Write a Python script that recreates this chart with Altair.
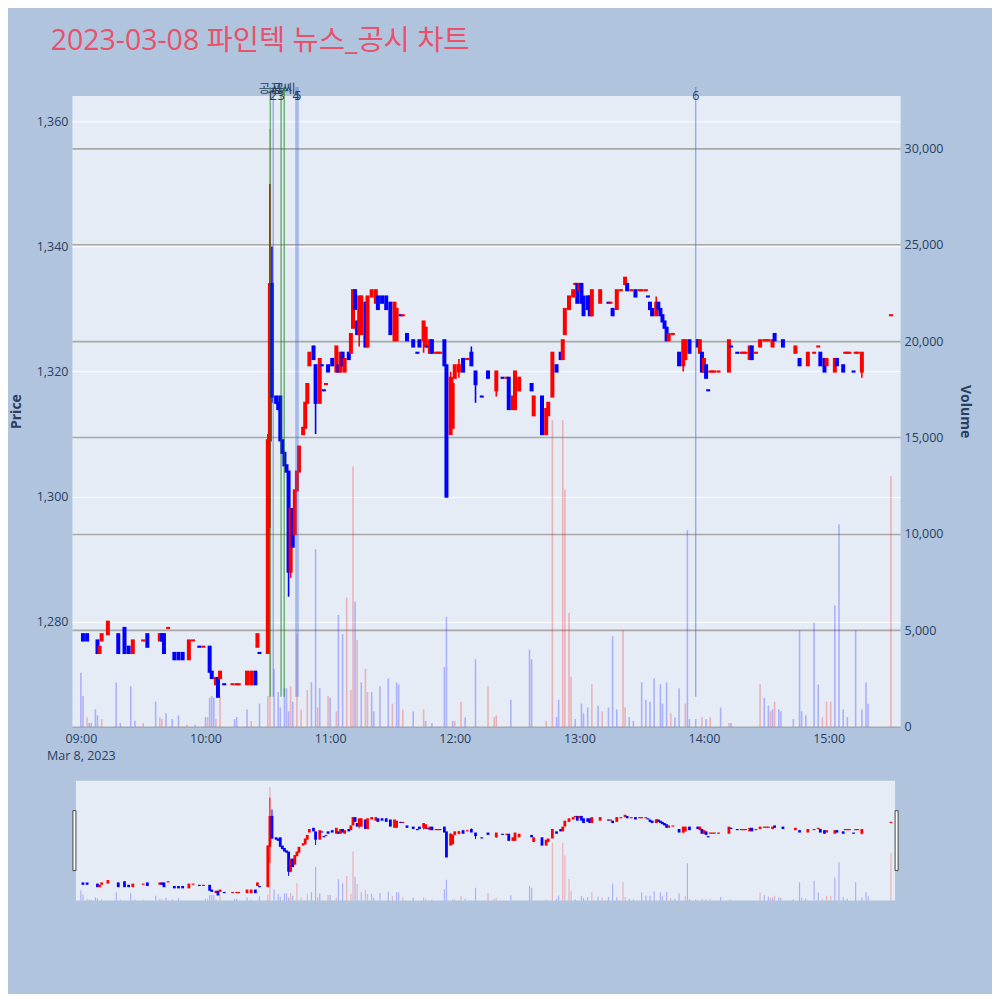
import altair as alt
import pandas as pd

# ---------------- data ----------------
candle_time = ["09:01","09:03","09:08","09:09","09:10","09:13","09:18","09:21","09:23","09:25","09:30","09:32","09:38","09:39","09:40","09:42","09:45","09:47","09:49","09:52","09:54","09:57","09:59",
 "10:02","10:03","10:05","10:06","10:07","10:09","10:13","10:15","10:16","10:20","10:22","10:24","10:25","10:26","10:30","10:31","10:32","10:34","10:35","10:36","10:37","10:38","10:39",
 "10:40","10:41","10:42","10:43","10:44","10:45","10:47","10:48","10:49","10:50","10:52","10:53","10:55","10:56","10:57","10:58","10:59",
 "11:01","11:03","11:04","11:05","11:06","11:07","11:09","11:10","11:11","11:12","11:13","11:14","11:15","11:17","11:18","11:20","11:22","11:23","11:25","11:27","11:29",
 "11:31","11:32","11:34","11:35","11:37","11:40","11:42","11:43","11:45","11:46","11:47","11:48","11:49","11:51","11:52","11:53","11:55","11:56","11:58","11:59",
 "12:00","12:02","12:04","12:06","12:08","12:10","12:13","12:16","12:20","12:23","12:25","12:26","12:28","12:29","12:31","12:37","12:38","12:42","12:44","12:45","12:47","12:49",
 "12:51","12:52","12:53","12:55","12:57","12:58","12:59","13:00","13:01","13:02","13:04","13:05","13:06","13:10","13:14","13:15","13:16","13:18","13:20","13:22","13:23","13:25",
 "13:27","13:29","13:30","13:32","13:33","13:34","13:35","13:37","13:38","13:39","13:40","13:41","13:42","13:43","13:45","13:48","13:50","13:51","13:53","13:57","13:58","13:59",
 "14:00","14:01","14:02","14:03","14:04","14:05","14:07","14:12","14:13","14:16","14:18","14:19","14:20","14:22","14:23","14:25","14:27","14:29","14:30","14:31","14:33","14:34",
 "14:38","14:44","14:46","14:50","14:53","14:55","14:56","14:58","14:59","15:03","15:04","15:07","15:08","15:09","15:10","15:12","15:13","15:14","15:16","15:30"]
candle_open = [1278,1278,1277,1275,1277,1278,1278,1279,1276,1275,1277,1278,1277,1278,1278,1279,1275,1275,1275,1274,1277,1276,1276,
 1276,1272,1270,1271,1271,1270,1270,1270,1270,1270,1270,1272,1276,1275,1275,1309,1334,1316,1315,1316,1309,1307,1305,
 1304,1288,1298,1294,1301,1304,1310,1311,1315,1321,1324,1321,1315,1321,1317,1318,1321,
 1322,1320,1321,1320,1323,1320,1323,1323,1327,1333,1328,1326,1326,1331,1324,1332,1331,1332,1332,1332,1331,
 1325,1325,1329,1329,1326,1325,1323,1325,1325,1324,1324,1323,1325,1323,1323,1323,1325,1321,1310,1311,
 1319,1320,1322,1322,1323,1320,1316,1320,1317,1319,1319,1319,1314,1314,1317,1318,1313,1316,1310,1313,1316,1321,
 1323,1322,1326,1330,1332,1334,1334,1333,1334,1332,1332,1332,1329,1331,1331,1331,1330,1330,1333,1334,1334,1333,
 1333,1333,1333,1333,1332,1331,1330,1329,1331,1330,1329,1328,1327,1325,1326,1323,1321,1322,1325,1325,1323,1323,
 1320,1321,1317,1320,1320,1320,1320,1320,1324,1323,1323,1323,1323,1322,1324,1323,1324,1325,1325,1325,1324,1326,
 1325,1323,1322,1321,1323,1324,1323,1322,1321,1320,1322,1321,1323,1323,1323,1320,1323,1323,1320,1329]
candle_high = [1278,1278,1277,1276,1278,1280,1278,1279,1276,1277,1277,1278,1278,1278,1278,1279,1275,1275,1275,1277,1277,1276,1276,
 1276,1272,1271,1271,1272,1270,1270,1270,1270,1272,1272,1272,1278,1275,1310,1350,1340,1316,1315,1316,1309,1307,1305,
 1304,1298,1298,1301,1304,1308,1311,1315,1318,1323,1324,1321,1322,1321,1317,1318,1321,
 1322,1324,1321,1323,1323,1322,1323,1326,1333,1333,1328,1332,1332,1331,1332,1333,1333,1332,1332,1332,1331,
 1331,1330,1329,1329,1326,1325,1323,1325,1328,1327,1324,1325,1325,1323,1323,1323,1325,1321,1320,1319,
 1321,1322,1322,1322,1324,1320,1316,1320,1320,1319,1319,1319,1316,1320,1319,1318,1316,1316,1314,1315,1323,1321,
 1323,1325,1330,1332,1333,1334,1334,1334,1334,1332,1332,1332,1333,1333,1331,1331,1330,1333,1333,1335,1334,1333,
 1333,1333,1333,1333,1332,1331,1330,1332,1331,1330,1329,1328,1327,1326,1326,1323,1325,1325,1325,1325,1325,1323,
 1322,1321,1317,1320,1320,1320,1320,1325,1324,1323,1323,1323,1323,1324,1324,1323,1325,1325,1325,1325,1325,1326,
 1325,1324,1322,1323,1323,1324,1323,1322,1322,1322,1322,1321,1323,1323,1323,1320,1323,1323,1323,1329]
candle_low = [1277,1277,1275,1275,1277,1278,1275,1275,1275,1275,1277,1276,1277,1277,1275,1279,1274,1274,1274,1274,1277,1276,1276,
 1272,1271,1270,1268,1271,1270,1270,1270,1270,1270,1270,1270,1276,1275,1275,1295,1315,1315,1314,1309,1307,1305,1304,
 1284,1287,1292,1294,1301,1304,1310,1311,1315,1321,1322,1310,1315,1321,1317,1318,1320,
 1321,1320,1320,1320,1321,1320,1322,1323,1327,1330,1326,1324,1326,1324,1324,1332,1331,1330,1331,1330,1326,
 1325,1325,1329,1329,1325,1324,1323,1324,1323,1324,1324,1323,1323,1323,1323,1323,1321,1300,1310,1311,
 1319,1319,1320,1322,1321,1315,1316,1319,1316,1319,1319,1314,1314,1314,1317,1317,1313,1310,1310,1313,1316,1320,
 1322,1322,1326,1330,1332,1334,1331,1333,1331,1329,1330,1329,1329,1331,1331,1331,1329,1330,1333,1334,1333,1333,
 1332,1333,1333,1333,1332,1330,1329,1329,1330,1329,1328,1327,1325,1325,1326,1321,1320,1322,1323,1324,1323,1320,
 1320,1319,1317,1320,1320,1320,1320,1320,1324,1323,1323,1323,1323,1322,1322,1323,1324,1325,1325,1325,1324,1325,
 1324,1323,1321,1321,1323,1324,1321,1320,1321,1320,1321,1320,1323,1323,1323,1320,1323,1323,1319,1329]
candle_close = [1277,1277,1275,1276,1278,1280,1275,1275,1275,1277,1277,1276,1278,1277,1275,1279,1274,1274,1274,1277,1277,1276,1276,
 1272,1271,1271,1268,1272,1270,1270,1270,1270,1272,1272,1270,1278,1275,1309,1334,1316,1315,1314,1309,1307,1305,1304,
 1288,1298,1292,1301,1304,1308,1311,1315,1318,1323,1322,1315,1322,1321,1317,1318,1320,
 1321,1324,1320,1323,1321,1322,1322,1326,1333,1330,1326,1332,1332,1324,1332,1333,1333,1330,1331,1330,1326,
 1331,1330,1329,1329,1325,1324,1323,1324,1328,1327,1324,1325,1323,1323,1323,1323,1321,1300,1319,1318,
 1321,1321,1320,1322,1321,1318,1316,1319,1320,1319,1319,1314,1316,1320,1319,1317,1316,1310,1314,1315,1323,1320,
 1322,1325,1330,1332,1333,1334,1331,1334,1331,1329,1330,1329,1333,1333,1331,1331,1329,1333,1333,1335,1333,1333,
 1332,1333,1333,1333,1332,1330,1329,1331,1330,1329,1328,1327,1325,1326,1326,1321,1325,1325,1323,1324,1325,1320,
 1322,1319,1317,1320,1320,1320,1320,1325,1324,1323,1323,1323,1323,1324,1322,1323,1325,1325,1325,1325,1325,1325,
 1324,1324,1321,1323,1323,1324,1321,1320,1322,1322,1321,1320,1323,1323,1323,1320,1323,1323,1323,1329]

vol_time = ["09:00","09:01","09:03","09:04","09:05","09:07","09:08","09:10","09:17","09:19","09:24","09:26","09:30","09:36","09:38","09:39","09:41","09:44","09:47","09:51","09:55",
 "10:00","10:01","10:02","10:03","10:04","10:05","10:07","10:14","10:15","10:20","10:22","10:26","10:30","10:31","10:33","10:35","10:36","10:38","10:39",
 "10:40","10:41","10:42","10:44","10:46","10:49","10:51","10:53","10:54","10:55","10:59","11:00","11:03","11:04","11:06","11:08","11:10","11:11","11:12","11:13",
 "11:15","11:17","11:18","11:20","11:21","11:24","11:28","11:30","11:32","11:33","11:35","11:40","11:45","11:46","11:49","11:55","11:56","11:59",
 "12:00","12:03","12:05","12:10","12:16","12:19","12:20","12:27","12:36","12:37","12:44","12:47","12:49","12:50","12:52","12:53","12:55","12:56","12:58",
 "13:01","13:02","13:04","13:06","13:09","13:11","13:14","13:16","13:18","13:21","13:22","13:24","13:26","13:30","13:32","13:34","13:36","13:39","13:40","13:42","13:44","13:46","13:48",
 "13:51","13:52","13:53","13:56","13:59","14:01","14:03","14:08","14:12","14:13","14:27","14:29","14:31","14:32","14:33","14:34","14:36","14:37","14:43","14:46","14:47","14:49",
 "14:53","14:55","14:57","14:59","15:01","15:03","15:05","15:07","15:09","15:13","15:16","15:18","15:19","15:30"]
vol_value = [2800,1600,500,200,200,900,600,400,2300,200,2100,300,200,1300,500,400,700,400,600,100,100,
 500,500,1500,1600,1500,400,1600,400,500,900,300,1200,1600,31000,3000,1800,1000,2000,2000,
 800,2100,1300,4800,900,1900,2300,9200,1000,2000,1600,1500,800,5800,4800,6700,1900,13500,6500,4500,
 2300,3000,1800,1800,800,2100,2500,1200,2300,2200,900,800,900,300,200,3100,5700,300,
 300,1300,500,3500,2100,500,600,1400,4000,3500,300,15900,500,1400,15900,12300,5900,2600,400,
 1200,700,1000,2200,1100,800,1000,4700,900,5000,1000,500,300,2300,1400,1300,2500,2200,1200,2300,700,500,2000,
 1200,10200,400,400,500,400,500,1000,200,200,2200,1500,1100,800,900,1300,900,800,400,5000,800,600,
 5400,2200,500,1300,1300,6300,10500,900,500,5000,900,2300,1200,13000]
vol_dir = ["d","d","u","d","d","d","d","u","d","d","d","d","u","d","u","u","d","d","d","u","d",
 "d","u","d","d","d","u","u","d","d","d","u","d","u","u","d","d","d","d","d",
 "d","u","d","u","u","u","d","d","u","d","u","d","u","d","d","u","u","u","d","u",
 "d","u","u","d","d","d","d","u","d","d","u","d","u","d","d","d","d","d",
 "u","u","d","d","u","u","u","d","d","d","u","u","d","d","u","u","u","u","d",
 "d","d","d","u","d","u","d","d","d","u","u","d","d","d","d","d","d","d","d","d","u","d","d",
 "u","d","d","d","u","d","u","d","u","d","u","d","d","u","d","u","d","d","d","d","d","d",
 "d","d","u","u","u","d","d","d","d","d","d","d","d","u"]

ann_time = ["10:31:12","10:32:36","10:36:24","10:37:54","10:43:36","10:44:30","13:56:00"]
ann_kind = ["공시","뉴스","공시","공시","뉴스","뉴스","뉴스"]
ann_label = ["1","2","3","","4","5","6"]
ann_low, ann_high = 1268, 1365.5

price_ticks = [1280, 1300, 1320, 1340, 1360]
vol_ticks = [0, 5000, 10000, 15000, 20000, 25000, 30000]
hour_ticks = ["09:00", "10:00", "11:00", "12:00", "13:00", "14:00", "15:00"]
price_domain = [1263.2, 1364.15]
vol_domain = [0, 32740]
x_domain = [-1.9, 392.0]

TITLE = "2023-03-08 파인텍 뉴스_공시 차트"
FONT = "Open Sans, Noto Sans CJK KR, sans-serif"


def to_min(t):
    parts = [int(p) for p in t.split(":")]
    sec = parts[2] if len(parts) > 2 else 0
    return (parts[0] - 9) * 60 + parts[1] + sec / 60.0


cd = pd.DataFrame({"t": [to_min(t) for t in candle_time], "o": candle_open, "h": candle_high,
                   "l": candle_low, "c": candle_close})
dirs = []
prev = None
for o, c in zip(cd["o"], cd["c"]):
    if c > o:
        dirs.append("u")
    elif c < o:
        dirs.append("d")
    else:
        dirs.append("u" if (prev is None or c >= prev) else "d")
    prev = c
cd["dir"] = dirs

vd = pd.DataFrame({"t": [to_min(t) for t in vol_time], "v": vol_value, "dir": vol_dir})
ad = pd.DataFrame({"t": [to_min(t) for t in ann_time], "kind": ann_kind, "label": ann_label,
                   "y0": ann_low, "y1": ann_high})

color_scale = alt.Scale(domain=["u", "d"], range=["#ff0000", "#0000ff"])
xscale = alt.Scale(domain=x_domain, nice=False, zero=False)
pscale = alt.Scale(domain=price_domain, nice=False, zero=False)
vscale = alt.Scale(domain=vol_domain, nice=False)

x_axis = alt.Axis(values=[to_min(h) for h in hour_ticks], grid=False, domain=False, ticks=False,
                  labelPadding=6, title=None, labelLineHeight=17,
                  labelExpr="datum.value == 0 ? ['09:00', 'Mar 8, 2023'] : "
                            "(9 + floor(datum.value/60) < 10 ? '0' : '') + (9 + floor(datum.value/60)) + ':00'")
p_axis = alt.Axis(orient="left", values=price_ticks, format=",.0f", grid=True, gridColor="white",
                  gridWidth=1, domain=False, ticks=False, labelPadding=4, title="Price",
                  titlePadding=13, titleFontWeight="bold")
v_axis = alt.Axis(orient="right", values=vol_ticks, format=",.0f", grid=True, gridColor="#a8a8a8",
                  gridWidth=1.6, domain=False, ticks=False, labelPadding=4, title="Volume",
                  titlePadding=14, titleFontWeight="bold")

X = alt.X("t:Q", scale=xscale, axis=x_axis)

vol_layer = alt.Chart(vd).mark_bar(size=1.6, opacity=0.25).encode(
    x=X, y=alt.Y("v:Q", scale=vscale, axis=v_axis),
    color=alt.Color("dir:N", scale=color_scale, legend=None))

wick = alt.Chart(cd).mark_rule(strokeWidth=1.6).encode(
    x=X, y=alt.Y("l:Q", scale=pscale, axis=p_axis), y2="h:Q",
    color=alt.Color("dir:N", scale=color_scale, legend=None))
body = alt.Chart(cd).transform_calculate(
    b0="min(datum.o, datum.c) - 0.17", b1="max(datum.o, datum.c) + 0.17"
).mark_bar(size=4).encode(
    x=X, y=alt.Y("b0:Q", scale=pscale, axis=p_axis), y2="b1:Q",
    color=alt.Color("dir:N", scale=color_scale, legend=None))

ann_g = alt.Chart(ad).transform_filter("datum.kind == '공시'").mark_rule(
    color="green", opacity=0.5, strokeWidth=1.6, clip=False).encode(
    x=X, y=alt.Y("y0:Q", scale=pscale, axis=p_axis), y2="y1:Q")
ann_b = alt.Chart(ad).transform_filter("datum.kind == '뉴스'").mark_rule(
    color="royalblue", opacity=0.5, strokeWidth=1.4, clip=False).encode(
    x=X, y=alt.Y("y0:Q", scale=pscale, axis=p_axis), y2="y1:Q")
ann_num = alt.Chart(ad).transform_calculate(yy="1364.0").mark_text(
    font=FONT, fontSize=12.5, color="#2a3f5f", baseline="middle", clip=False).encode(
    x=X, y=alt.Y("yy:Q", scale=pscale, axis=p_axis), text="label:N")
ann_txt = alt.Chart(ad).transform_filter("datum.kind == '공시'").transform_calculate(
    yy="1365.2").mark_text(font=FONT, fontSize=12.5, color="#2a3f5f", baseline="middle",
                           clip=False).encode(
    x=X, y=alt.Y("yy:Q", scale=pscale, axis=p_axis), text="kind:N")

main = alt.layer(
    vol_layer,
    alt.layer(wick, body, ann_g, ann_b, ann_txt, ann_num)
).resolve_scale(y="independent").properties(
    width=829, height=632,
    view=alt.ViewBackground(fill="#e5ecf6", stroke="transparent"))

# ---------------- range slider ----------------
XM = alt.X("t:Q", scale=xscale, axis=None)
one = pd.DataFrame({"k": [0]})
mini_bg = alt.Chart(one).mark_rect(color="#e5ecf6").encode(
    x=alt.value(4), x2=alt.value(824), y=alt.value(0), y2=alt.value(120))
mini_vol = alt.Chart(vd).mark_bar(size=1.2, opacity=0.25).encode(
    x=XM, y=alt.Y("v:Q", scale=vscale, axis=None),
    color=alt.Color("dir:N", scale=color_scale, legend=None))
mini_wick = alt.Chart(cd).mark_rule(strokeWidth=1).encode(
    x=XM, y=alt.Y("l:Q", scale=pscale, axis=None), y2="h:Q",
    color=alt.Color("dir:N", scale=color_scale, legend=None))
mini_body = alt.Chart(cd).transform_calculate(
    b0="min(datum.o, datum.c) - 0.5", b1="max(datum.o, datum.c) + 0.5"
).mark_bar(size=2.8).encode(
    x=XM, y=alt.Y("b0:Q", scale=pscale, axis=None), y2="b1:Q",
    color=alt.Color("dir:N", scale=color_scale, legend=None))
handle_l = alt.Chart(one).mark_rect(fill="white", stroke="#444444", strokeWidth=1).encode(
    x=alt.value(1), x2=alt.value(4), y=alt.value(30), y2=alt.value(90))
handle_r = alt.Chart(one).mark_rect(fill="white", stroke="#444444", strokeWidth=1).encode(
    x=alt.value(824), x2=alt.value(827), y=alt.value(30), y2=alt.value(90))

mini = alt.layer(
    mini_bg, mini_vol, alt.layer(mini_wick, mini_body), handle_l, handle_r
).resolve_scale(y="independent").properties(
    width=829, height=120,
    view=alt.ViewBackground(fill="transparent", stroke="transparent"))

chart = alt.vconcat(main, mini, spacing=17).properties(
    title=alt.TitleParams(TITLE, anchor="start", fontSize=28.5, font=FONT, color="#e9506a",
                          fontWeight="normal", dx=42, offset=27),
    background="#b0c4de",
    padding={"left": 0, "top": 18, "right": 20, "bottom": 92},
).configure_axis(
    labelFont=FONT, labelFontSize=12.5, labelColor="#2a3f5f",
    titleFont=FONT, titleFontSize=14, titleColor="#2a3f5f"
)

chart.save("out.html", embed_options={"renderer": "svg", "actions": False})
